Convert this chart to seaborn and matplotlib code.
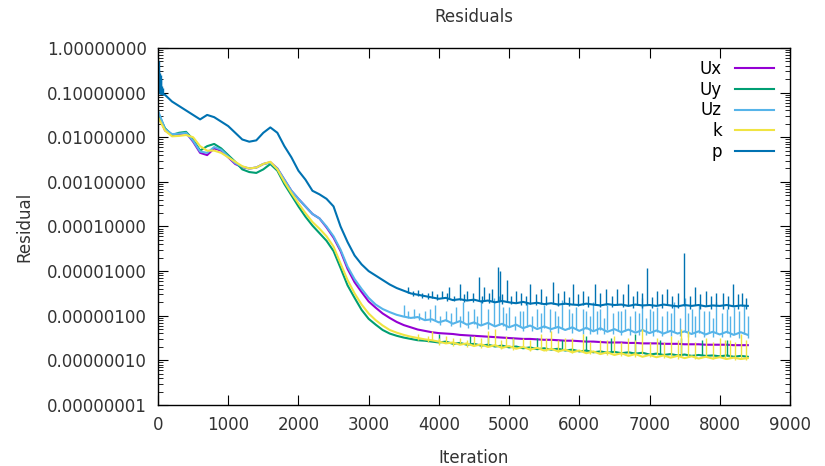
import numpy as np
import pandas as pd
import matplotlib
matplotlib.use('Agg')
import matplotlib.pyplot as plt
import matplotlib.ticker as mticker
import seaborn as sns


# residual history as log10(residual)
iters = list(range(0, 8401, 100))

p_log = [-1.00, -1.05, -1.20, -1.30, -1.40, -1.50, -1.60, -1.50, -1.55, -1.65,
         -1.75, -1.90, -2.05, -2.10, -2.07, -1.90, -1.78, -1.90, -2.20, -2.45,
         -2.75, -2.95, -3.20, -3.28, -3.38, -3.55, -4.00, -4.35, -4.65, -4.85,
         -5.00, -5.10, -5.20, -5.30, -5.38, -5.44, -5.50, -5.53, -5.56, -5.59,
         -5.62, -5.60, -5.65, -5.63, -5.66, -5.64, -5.68, -5.66, -5.70, -5.67,
         -5.70, -5.72, -5.69, -5.73, -5.71, -5.74, -5.72, -5.75, -5.73, -5.75,
         -5.76, -5.73, -5.75, -5.77, -5.74, -5.76, -5.75, -5.78, -5.75, -5.77,
         -5.76, -5.78, -5.75, -5.77, -5.79, -5.76, -5.78, -5.76, -5.79, -5.77,
         -5.78, -5.76, -5.79, -5.77, -5.78]

ux_log = [-1.45, -1.85, -1.95, -1.93, -1.90, -2.10, -2.35, -2.40, -2.25, -2.30,
          -2.45, -2.60, -2.67, -2.70, -2.68, -2.60, -2.56, -2.70, -2.95, -3.20,
          -3.38, -3.55, -3.72, -3.82, -4.02, -4.25, -4.55, -4.95, -5.25, -5.47,
          -5.68, -5.82, -5.95, -6.05, -6.14, -6.21, -6.26, -6.31, -6.34, -6.37,
          -6.39, -6.40, -6.41, -6.43, -6.44, -6.45, -6.46, -6.47, -6.48, -6.49,
          -6.50, -6.51, -6.52, -6.52, -6.53, -6.54, -6.54, -6.55, -6.56, -6.56,
          -6.57, -6.58, -6.58, -6.59, -6.60, -6.60, -6.60, -6.61, -6.61, -6.62,
          -6.62, -6.62, -6.63, -6.63, -6.63, -6.64, -6.64, -6.64, -6.65, -6.65,
          -6.65, -6.65, -6.66, -6.66, -6.66]

uy_log = [-1.45, -1.80, -1.95, -1.90, -1.88, -2.05, -2.30, -2.20, -2.15, -2.25,
          -2.40, -2.55, -2.72, -2.78, -2.80, -2.72, -2.60, -2.75, -3.05, -3.30,
          -3.55, -3.78, -3.98, -4.15, -4.32, -4.55, -4.93, -5.32, -5.60, -5.87,
          -6.07, -6.20, -6.32, -6.40, -6.45, -6.49, -6.52, -6.55, -6.56, -6.58,
          -6.60, -6.58, -6.63, -6.61, -6.65, -6.63, -6.67, -6.65, -6.69, -6.67,
          -6.71, -6.69, -6.73, -6.71, -6.75, -6.73, -6.76, -6.74, -6.78, -6.76,
          -6.80, -6.78, -6.82, -6.80, -6.83, -6.81, -6.84, -6.82, -6.85, -6.83,
          -6.87, -6.85, -6.88, -6.86, -6.89, -6.87, -6.90, -6.88, -6.90, -6.89,
          -6.91, -6.89, -6.92, -6.90, -6.92]

uz_log = [-1.40, -1.82, -1.93, -1.92, -1.90, -2.08, -2.32, -2.35, -2.22, -2.28,
          -2.43, -2.58, -2.66, -2.70, -2.68, -2.60, -2.57, -2.70, -2.95, -3.20,
          -3.38, -3.55, -3.72, -3.82, -4.00, -4.22, -4.52, -4.90, -5.18, -5.40,
          -5.60, -5.75, -5.85, -5.92, -5.98, -6.02, -6.05, -6.03, -6.10, -6.08,
          -6.15, -6.10, -6.18, -6.12, -6.20, -6.15, -6.22, -6.16, -6.24, -6.18,
          -6.26, -6.20, -6.28, -6.22, -6.30, -6.24, -6.30, -6.25, -6.32, -6.26,
          -6.34, -6.27, -6.35, -6.28, -6.36, -6.30, -6.37, -6.31, -6.38, -6.32,
          -6.39, -6.33, -6.40, -6.34, -6.40, -6.35, -6.41, -6.35, -6.42, -6.36,
          -6.42, -6.36, -6.43, -6.37, -6.43]

k_log = [-1.55, -1.85, -1.98, -1.97, -1.95, -2.00, -2.20, -2.30, -2.30, -2.35,
         -2.45, -2.55, -2.65, -2.70, -2.68, -2.60, -2.55, -2.72, -3.00, -3.25,
         -3.48, -3.70, -3.90, -4.05, -4.22, -4.45, -4.83, -5.20, -5.50, -5.75,
         -5.95, -6.10, -6.22, -6.32, -6.38, -6.43, -6.47, -6.50, -6.53, -6.55,
         -6.58, -6.62, -6.60, -6.65, -6.62, -6.68, -6.64, -6.70, -6.66, -6.72,
         -6.68, -6.74, -6.70, -6.76, -6.72, -6.78, -6.74, -6.80, -6.76, -6.82,
         -6.78, -6.84, -6.80, -6.86, -6.82, -6.88, -6.84, -6.90, -6.86, -6.92,
         -6.88, -6.93, -6.89, -6.94, -6.90, -6.95, -6.91, -6.96, -6.92, -6.96,
         -6.93, -6.97, -6.94, -6.97, -6.95]

# spikes and small fluctuations: (iteration, bottom, top) in log10
p_spikes = [(5, -1.00, -0.25), (12, -1.00, -0.50), (20, -1.00, -0.30), (28, -1.02, -0.55),
            (36, -1.02, -0.70), (45, -1.03, -0.60), (55, -1.04, -0.85), (70, -1.05, -0.90),
            (3560, -5.50, -5.35), (3700, -5.56, -5.42), (3900, -5.60, -5.45), (4050, -5.61, -5.45),
            (4150, -5.60, -5.35), (4300, -5.64, -5.30), (4400, -5.65, -5.45), (4570, -5.65, -5.13),
            (4650, -5.67, -5.35), (4760, -5.67, -5.40), (4840, -5.68, -4.90), (4870, -5.68, -5.00),
            (4970, -5.70, -5.20), (5100, -5.72, -5.45), (5300, -5.73, -5.30), (5450, -5.73, -5.40),
            (5620, -5.73, -5.25), (5780, -5.74, -5.45), (5910, -5.74, -5.30), (6050, -5.75, -5.45),
            (6220, -5.75, -5.30), (6380, -5.76, -5.40), (6540, -5.76, -5.40), (6700, -5.77, -5.30),
            (6820, -5.76, -5.45), (6960, -5.77, -4.93), (7100, -5.77, -5.45), (7250, -5.77, -5.40),
            (7490, -5.78, -4.60), (7650, -5.77, -5.35), (7800, -5.78, -5.45), (7950, -5.78, -5.50),
            (8190, -5.78, -5.30), (8320, -5.78, -5.50),
            (3625, -5.56, -5.45), (3760, -5.60, -5.48), (3840, -5.62, -5.50), (3980, -5.64, -5.52),
            (4110, -5.66, -5.50), (4220, -5.67, -5.55), (4360, -5.69, -5.52), (4480, -5.70, -5.50),
            (4610, -5.71, -5.55), (4720, -5.72, -5.48), (4900, -5.73, -5.52), (5030, -5.74, -5.55),
            (5170, -5.75, -5.50), (5240, -5.76, -5.56), (5380, -5.77, -5.52), (5520, -5.77, -5.55),
            (5700, -5.78, -5.50), (5850, -5.79, -5.58), (5980, -5.79, -5.52), (6130, -5.80, -5.55),
            (6300, -5.80, -5.50), (6460, -5.81, -5.56), (6620, -5.81, -5.52), (6760, -5.82, -5.55),
            (6900, -5.82, -5.50), (7030, -5.82, -5.58), (7180, -5.83, -5.52), (7320, -5.83, -5.55),
            (7400, -5.83, -5.50), (7570, -5.84, -5.56), (7720, -5.84, -5.52), (7880, -5.84, -5.55),
            (8050, -5.85, -5.50), (8120, -5.85, -5.56), (8260, -5.85, -5.52), (8380, -5.85, -5.60)]

uz_spikes = [(3500, -6.00, -5.75), (3650, -6.05, -5.85), (3800, -6.08, -5.90), (3950, -6.10, -5.75),
             (4100, -6.12, -5.90), (4250, -6.15, -5.80), (4350, -6.15, -5.70), (4500, -6.18, -5.85),
             (4600, -6.20, -5.65), (4780, -6.20, -5.60), (4850, -6.20, -5.55), (4920, -6.22, -5.80),
             (5000, -6.24, -5.80), (5150, -6.24, -5.90), (5250, -6.25, -5.70), (5400, -6.26, -5.85),
             (5500, -6.27, -5.75), (5650, -6.28, -5.90), (5750, -6.28, -5.65), (5850, -6.30, -5.85),
             (5950, -6.30, -5.80), (6100, -6.30, -5.90), (6200, -6.31, -5.70), (6300, -6.32, -5.85),
             (6400, -6.32, -5.75), (6550, -6.33, -5.90), (6650, -6.34, -5.85), (6800, -6.34, -5.90),
             (6900, -6.35, -5.60), (7000, -6.35, -5.85), (7100, -6.36, -5.80), (7250, -6.36, -5.90),
             (7350, -6.37, -5.70), (7500, -6.37, -5.60), (7600, -6.38, -5.85), (7700, -6.38, -5.75),
             (7850, -6.38, -5.90), (7950, -6.39, -5.70), (8100, -6.39, -5.85), (8200, -6.40, -5.80),
             (8350, -6.40, -5.75),
             (3560, -6.05, -5.90), (3720, -6.10, -5.95), (3870, -6.15, -5.85), (4020, -6.20, -6.00),
             (4180, -6.22, -5.95), (4300, -6.25, -6.00), (4420, -6.27, -5.90), (4550, -6.28, -6.00),
             (4700, -6.30, -5.85), (4960, -6.32, -5.95), (5080, -6.33, -6.00), (5200, -6.34, -5.90),
             (5330, -6.35, -6.00), (5450, -6.36, -5.95), (5580, -6.37, -5.85), (5700, -6.38, -6.00),
             (5900, -6.39, -5.95), (6050, -6.40, -5.85), (6150, -6.40, -6.00), (6250, -6.41, -5.90),
             (6350, -6.42, -6.05), (6480, -6.42, -5.95), (6600, -6.43, -5.90), (6720, -6.43, -6.00),
             (6850, -6.44, -5.95), (6950, -6.44, -6.05), (7050, -6.45, -5.90), (7180, -6.45, -6.00),
             (7300, -6.46, -5.95), (7430, -6.46, -6.05), (7550, -6.47, -5.95), (7650, -6.47, -6.00),
             (7780, -6.47, -5.90), (7900, -6.48, -6.05), (8030, -6.48, -5.95), (8150, -6.48, -6.00),
             (8280, -6.49, -5.90), (8400, -6.49, -6.00)]

k_spikes = [(3900, -6.55, -6.35), (4100, -6.60, -6.45), (4300, -6.62, -6.50), (4500, -6.65, -6.45),
            (4700, -6.66, -6.35), (4800, -6.68, -6.30), (4950, -6.68, -6.45), (5200, -6.70, -6.50),
            (5450, -6.72, -6.40), (5600, -6.74, -6.35), (5800, -6.76, -6.50), (6050, -6.80, -6.40),
            (6300, -6.82, -6.55), (6500, -6.84, -6.45), (6700, -6.85, -6.50), (6900, -6.86, -6.30),
            (7100, -6.88, -6.50), (7300, -6.90, -6.45), (7450, -6.90, -6.30), (7550, -6.90, -6.35),
            (7800, -6.92, -6.50), (8000, -6.93, -6.50), (8150, -6.94, -6.55), (8300, -6.95, -6.40),
            (3700, -6.55, -6.40), (3850, -6.60, -6.45), (4000, -6.65, -6.50), (4200, -6.68, -6.50),
            (4400, -6.70, -6.55), (4600, -6.72, -6.50), (4880, -6.75, -6.55), (5050, -6.76, -6.50),
            (5300, -6.78, -6.55), (5520, -6.80, -6.50), (5700, -6.82, -6.55), (5900, -6.84, -6.50),
            (6150, -6.86, -6.60), (6400, -6.88, -6.55), (6600, -6.90, -6.60), (6800, -6.92, -6.55),
            (7000, -6.93, -6.60), (7200, -6.95, -6.60), (7400, -6.96, -6.55), (7650, -6.97, -6.60),
            (7900, -6.98, -6.60), (8080, -6.98, -6.55), (8220, -6.99, -6.60), (8380, -6.99, -6.55)]

uy_spikes = [(4000, -6.60, -6.40), (4450, -6.64, -6.45), (4700, -6.66, -6.45), (5050, -6.70, -6.50),
             (5400, -6.74, -6.50), (5750, -6.76, -6.55), (6100, -6.80, -6.45), (6450, -6.82, -6.50),
             (6800, -6.84, -6.40), (7150, -6.86, -6.55), (7450, -6.88, -6.50), (7750, -6.89, -6.55),
             (8100, -6.90, -6.55)]

names = ['Ux', 'Uy', 'Uz', 'k', 'p']
colors = {'Ux': '#9400d3', 'Uy': '#009e73', 'Uz': '#56b4e9', 'k': '#f0e442', 'p': '#0072b2'}

series = {'Ux': ux_log, 'Uy': uy_log, 'Uz': uz_log, 'k': k_log, 'p': p_log}
spikes = {'Uy': uy_spikes, 'Uz': uz_spikes, 'k': k_spikes, 'p': p_spikes}

df = pd.concat([pd.DataFrame({'Iteration': iters, 'Residual': 10.0 ** np.array(v), 'field': n})
                for n, v in series.items()], ignore_index=True)

fig = plt.figure(figsize=(8.25, 4.66), dpi=100)
ax = fig.add_axes([0.1915, 0.131, 0.766, 0.766])

for n in names:
    sns.lineplot(data=df[df['field'] == n], x='Iteration', y='Residual',
                 color=colors[n], linewidth=1.5, label=n, ax=ax, estimator=None)
    if n in spikes:
        sp = np.array(spikes[n])
        ax.vlines(sp[:, 0], 10.0 ** sp[:, 1], 10.0 ** sp[:, 2], color=colors[n], linewidth=1.0)

ax.set_yscale('log')
ax.set_xlim(0, 9000)
ax.set_ylim(1e-8, 1)
ax.xaxis.set_major_locator(mticker.MultipleLocator(1000))
ax.yaxis.set_major_locator(mticker.LogLocator(base=10, numticks=20))
ax.yaxis.set_minor_locator(mticker.LogLocator(base=10, subs=np.arange(2, 10), numticks=20))
ax.yaxis.set_major_formatter(mticker.FormatStrFormatter('%.8f'))
ax.yaxis.set_minor_formatter(mticker.NullFormatter())
ax.tick_params(which='both', direction='in', top=True, right=True, labelsize=12,
               labelcolor='#333333', pad=8)
ax.tick_params(which='major', length=7)
ax.tick_params(which='minor', length=3.5)
for s in ax.spines.values():
    s.set_color('black')
    s.set_linewidth(1.0)

ax.set_title('Residuals', fontsize=12, color='#333333', pad=19)
ax.set_xlabel('Iteration', fontsize=12, color='#333333', labelpad=11)
ax.set_ylabel('Residual', fontsize=12, color='#333333', labelpad=10)

ax.legend(loc='upper right', bbox_to_anchor=(0.99, 0.995), frameon=False, markerfirst=False,
          fontsize=12, handlelength=2.3, labelspacing=0.17, handletextpad=0.8, borderaxespad=0.2)

fig.savefig('out.png', dpi=100)
